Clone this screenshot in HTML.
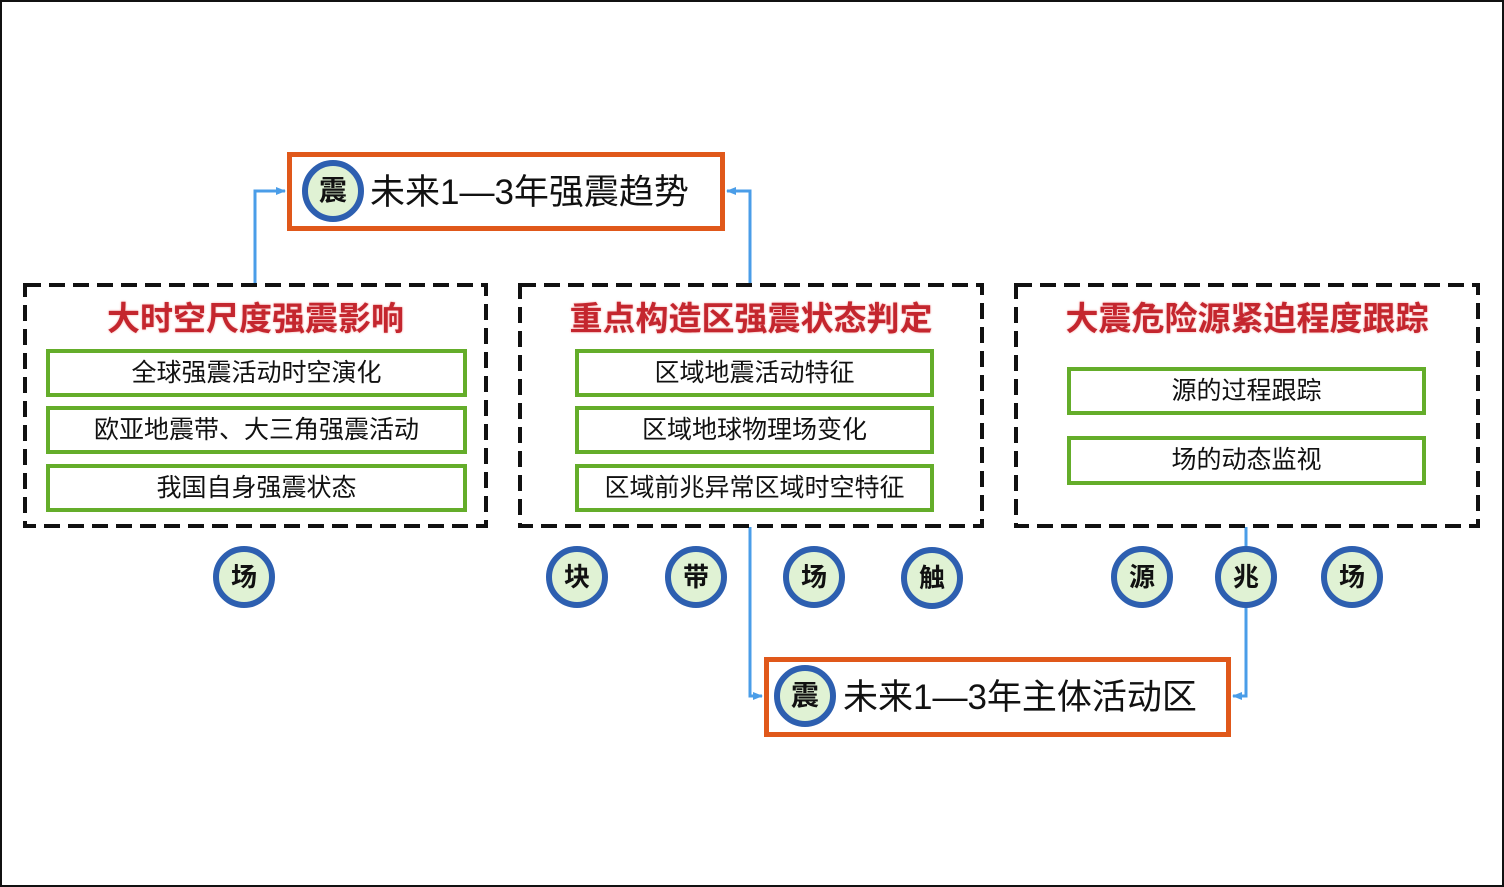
<!DOCTYPE html>
<html><head><meta charset="utf-8"><style>
body{margin:0;width:1504px;height:887px;position:relative;background:#fff;font-family:"Liberation Sans","Noto Sans CJK SC",sans-serif;overflow:hidden}
.a{position:absolute;box-sizing:border-box}
.ob{border:5px solid #e0581a;background:#fff}
.g{border:4px solid #64ad2a;background:#fff;font-size:25px;text-align:center;color:#111}
.t{font-size:33px;font-weight:bold;color:#c4262e;text-align:center;text-shadow:0 0 2px #f4a0a0}
.c{width:62px;height:62px;border-radius:50%;border:6px solid #2d5fb0;background:#e0f2d4;font-weight:bold;font-size:26px;text-align:center;line-height:50px;color:#111}
.big{font-size:35px;color:#111;white-space:nowrap}
</style></head><body>
<div class="a" style="left:0;top:0;width:1504px;height:887px;border:2px solid #111"></div>
<svg class="a" style="left:0;top:0" width="1504" height="887">
<defs><marker id="m" markerUnits="userSpaceOnUse" markerWidth="10" markerHeight="10" refX="9" refY="5" orient="auto"><path d="M0,1L10,5L0,9z" fill="#4a9de8"/></marker></defs>
<g stroke="#4a9de8" stroke-width="3" fill="none">
<path d="M255,283V191H285" marker-end="url(#m)"/>
<path d="M750,283V191H727" marker-end="url(#m)"/>
<path d="M750,527V696H762" marker-end="url(#m)"/>
<path d="M1246,527V696H1233" marker-end="url(#m)"/>
</g>
<g stroke="#111" stroke-width="4" fill="none" stroke-dasharray="16,8">
<rect x="25" y="285" width="461" height="241"/>
<rect x="520" y="285" width="462" height="241"/>
<rect x="1016" y="285" width="462" height="241"/>
</g></svg>
<div class="a ob" style="left:287px;top:152px;width:438px;height:79px"></div>
<div class="a c" style="left:302px;top:160px;font-size:28px">震</div>
<div class="a big" style="left:370px;top:164px">未来1—3年强震趋势</div>
<div class="a ob" style="left:764px;top:657px;width:467px;height:80px"></div>
<div class="a c" style="left:774px;top:665px;font-size:28px">震</div>
<div class="a big" style="left:843px;top:669px">未来1—3年主体活动区</div>

<div class="a t" style="left:23px;top:292px;width:465px">大时空尺度强震影响</div>
<div class="a g" style="left:46px;top:349px;width:421px;height:48px;line-height:40px">全球强震活动时空演化</div>
<div class="a g" style="left:46px;top:406px;width:421px;height:48px;line-height:40px">欧亚地震带、大三角强震活动</div>
<div class="a g" style="left:46px;top:464px;width:421px;height:48px;line-height:40px">我国自身强震状态</div>

<div class="a t" style="left:518px;top:292px;width:466px">重点构造区强震状态判定</div>
<div class="a g" style="left:575px;top:349px;width:359px;height:48px;line-height:40px">区域地震活动特征</div>
<div class="a g" style="left:575px;top:406px;width:359px;height:48px;line-height:40px">区域地球物理场变化</div>
<div class="a g" style="left:575px;top:464px;width:359px;height:48px;line-height:40px">区域前兆异常区域时空特征</div>

<div class="a t" style="left:1014px;top:292px;width:466px">大震危险源紧迫程度跟踪</div>
<div class="a g" style="left:1067px;top:367px;width:359px;height:48px;line-height:40px">源的过程跟踪</div>
<div class="a g" style="left:1067px;top:436px;width:359px;height:49px;line-height:41px">场的动态监视</div>

<div class="a c" style="left:213px;top:546px">场</div>
<div class="a c" style="left:546px;top:546px">块</div>
<div class="a c" style="left:665px;top:546px">带</div>
<div class="a c" style="left:783px;top:546px">场</div>
<div class="a c" style="left:901px;top:547px">触</div>
<div class="a c" style="left:1111px;top:546px">源</div>
<div class="a c" style="left:1215px;top:546px">兆</div>
<div class="a c" style="left:1321px;top:546px">场</div>
</body></html>
